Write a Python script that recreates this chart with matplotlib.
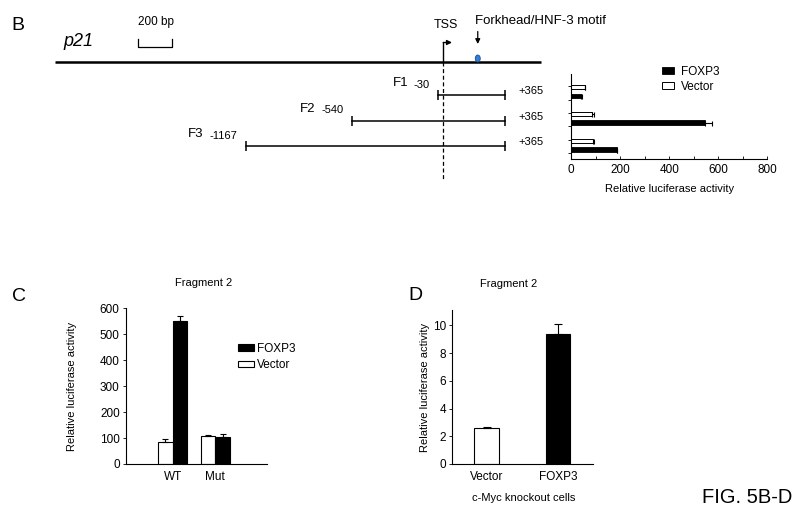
import numpy as np
import matplotlib
matplotlib.use("Agg")
import matplotlib.pyplot as plt
from matplotlib.patches import Ellipse

plt.rcParams['font.family'] = ['Liberation Sans', 'DejaVu Sans']
plt.rcParams['font.size'] = 8
plt.rcParams['axes.linewidth'] = 0.8

# ---- data ----
# p21 promoter map, bp relative to the TSS
map_start, map_end = -2290, 580
motif_pos = 204
scale_bar = [-1800, -1600]
frag_names = ["F1", "F2", "F3"]
frag_starts = [-30, -540, -1167]
frag_end = 365

# panel B: luciferase activity per fragment
b_vector = [57, 84, 91]
b_vector_err = [2, 10, 2]
b_foxp3 = [41, 548, 186]
b_foxp3_err = [2, 27, 3]

# panel C: fragment 2, wild type vs mutant motif
c_groups = ["WT", "Mut"]
c_vector = [84, 109]
c_vector_err = [11, 3]
c_foxp3 = [552, 104]
c_foxp3_err = [18, 12]

# panel D: fragment 2 in c-Myc knockout cells
d_labels = ["Vector", "FOXP3"]
d_values = [2.58, 9.39]
d_err = [0.11, 0.70]

W, H = 800, 512
fig = plt.figure(figsize=(8, 5.12), dpi=100)


def fx(px):
    return px / W


def fy(py):
    return 1 - py / H


# ---- promoter map (x in bp, y in pixels) ----
bp_px = 0.1694
tss_px = 443.2
ax0 = fig.add_axes([0, 0, 1, 1])
ax0.set_xlim(-tss_px / bp_px, (W - tss_px) / bp_px)
ax0.set_ylim(H, 0)
ax0.axis('off')

line_y = 61.7
frag_rows = [95, 120.7, 146]

ax0.plot([map_start, map_end], [line_y, line_y], color='k', lw=1.8, solid_capstyle='butt')
ax0.text(-2244, 46, 'p21', style='italic', fontsize=13, va='baseline')

ax0.plot([scale_bar[0], scale_bar[0], scale_bar[1], scale_bar[1]], [39.3, 46.7, 46.7, 39.3],
         color='k', lw=0.9)
ax0.text(scale_bar[0], 21.5, '200 bp', fontsize=8.5, va='center', ha='left')

# TSS flag
ax0.plot([0, 0], [line_y, 42.5], color='k', lw=1)
ax0.annotate('', xy=(52, 42.5), xytext=(0, 42.5),
             arrowprops=dict(arrowstyle='-|>', lw=1, color='k', shrinkA=0, shrinkB=0, mutation_scale=7))
ax0.text(14, 25.5, 'TSS', fontsize=9, ha='center', va='center')
ax0.plot([0, 0], [line_y, 180], color='k', lw=0.9, ls=(0, (3.2, 2.1)))

# Forkhead motif
ax0.text(188, 21, 'Forkhead/HNF-3 motif', fontsize=9.5, ha='left', va='center')
ax0.annotate('', xy=(motif_pos, 44), xytext=(motif_pos, 31.5),
             arrowprops=dict(arrowstyle='-|>', lw=0.9, color='k', shrinkA=0, shrinkB=0, mutation_scale=7))
ax0.add_patch(Ellipse((motif_pos, 58.5), width=5 / bp_px, height=7, fc='#2f7fd8', ec='#1b4f8f',
                      lw=0.6, zorder=3))

# fragments
for name, s, y in zip(frag_names, frag_starts, frag_rows):
    ax0.plot([s, frag_end], [y, y], color='k', lw=1.1, marker='|', ms=7, mew=1.1)
    num = ax0.annotate(str(s), xy=(s, y), xytext=(-6, 7.5), textcoords='offset points',
                       ha='right', va='center', fontsize=8)
    ax0.annotate(name, xy=(0, 0.5), xycoords=num, xytext=(-4, 1), textcoords='offset points',
                 ha='right', va='center', fontsize=9.5)
    ax0.annotate('+%d' % frag_end, xy=(frag_end, y), xytext=(9.5, 3), textcoords='offset points',
                 ha='left', va='center', fontsize=8)

err_kw = dict(ecolor='k', elinewidth=0.8, capthick=0.8)

# ---- panel B bars ----
axB = fig.add_axes([fx(571), fy(159.3), fx(767.3 - 571), (159.3 - 74.3) / H])
ypos = np.arange(len(frag_names))
off = 0.167
hb = axB.barh(ypos + off, b_foxp3, height=0.18, color='k', edgecolor='k', lw=0.6,
              xerr=[[0] * 3, b_foxp3_err], error_kw=dict(capsize=1.8, **err_kw))
hv = axB.barh(ypos - off, b_vector, height=0.15, color='white', edgecolor='k', lw=0.7,
              xerr=[[0] * 3, b_vector_err], error_kw=dict(capsize=1.8, **err_kw))
axB.set_xlim(0, 800)
axB.set_ylim(2.52, -0.64)
axB.spines[['top', 'right']].set_visible(False)
axB.set_xticks(np.arange(0, 801, 200))
axB.set_xticks(np.arange(100, 800, 200), minor=True)
axB.set_yticks([-0.2, 0.3, 0.8, 1.3, 1.8, 2.3])
axB.set_yticklabels([])
axB.tick_params(axis='x', which='both', direction='in', length=2.5, width=0.6, pad=3.5, labelsize=8.5)
axB.tick_params(axis='y', direction='out', length=2.5, width=0.6)
axB.set_xlabel('Relative luciferase activity', fontsize=8)
axB.xaxis.set_label_coords(0.5, -0.296)
fig.legend([hb, hv], ['FOXP3', 'Vector'], loc='upper left', bbox_to_anchor=(fx(661.5), fy(66)),
           frameon=False, borderpad=0, borderaxespad=0, handlelength=1.1, handleheight=0.5,
           handletextpad=0.55, labelspacing=0.25, fontsize=8.5)

# ---- panel C ----
axC = fig.add_axes([fx(126), fy(464), fx(141.3), 155.7 / H])
xc = np.arange(len(c_groups))
wc = 0.34
hv_c = axC.bar(xc - wc / 2, c_vector, width=wc, color='white', edgecolor='k', lw=0.8,
               yerr=[[0] * 2, c_vector_err], error_kw=dict(capsize=2.2, **err_kw))
hb_c = axC.bar(xc + wc / 2, c_foxp3, width=wc, color='k', edgecolor='k', lw=0.8,
               yerr=[[0] * 2, c_foxp3_err], error_kw=dict(capsize=2.2, **err_kw))
axC.set_xlim(-1.096, 2.22)
axC.set_ylim(0, 600)
axC.set_yticks(np.arange(0, 601, 100))
axC.set_xticks(xc)
axC.set_xticklabels(c_groups)
axC.spines[['top', 'right']].set_visible(False)
axC.tick_params(axis='y', direction='out', length=2.5, width=0.6, pad=2, labelsize=8.5)
axC.tick_params(axis='x', length=0, pad=5, labelsize=8.5)
axC.set_ylabel('Relative luciferase activity', fontsize=8)
axC.yaxis.set_label_coords(-0.349, 0.5)
fig.legend([hb_c, hv_c], ['FOXP3', 'Vector'], loc='upper left', bbox_to_anchor=(fx(238.3), fy(343)),
           frameon=False, borderpad=0, borderaxespad=0, handlelength=1.35, handleheight=0.5,
           handletextpad=0.25, labelspacing=0.35, fontsize=8.5)
fig.text(fx(203.2), fy(283.3), 'Fragment 2', ha='center', va='center', fontsize=8)

# ---- panel D ----
axD = fig.add_axes([fx(452.3), fy(464), fx(141), 154 / H])
xd = np.arange(len(d_labels))
axD.bar(xd, d_values, width=0.35, color=['white', 'k'], edgecolor='k', lw=0.8,
        yerr=[[0] * 2, d_err], error_kw=dict(capsize=3.2, **err_kw))
axD.set_xlim(-0.485, 1.496)
axD.set_ylim(0, 11.1)
axD.set_yticks(np.arange(0, 11, 2))
axD.set_xticks(xd)
axD.set_xticklabels(d_labels)
axD.spines[['top', 'right']].set_visible(False)
axD.tick_params(axis='y', direction='out', length=2.5, width=0.6, pad=2, labelsize=8.5)
axD.tick_params(axis='x', length=0, pad=5, labelsize=8.5)
axD.set_ylabel('Relative luciferase activity', fontsize=8)
axD.yaxis.set_label_coords(-0.158, 0.5)
fig.text(fx(508.3), fy(283.7), 'Fragment 2', ha='center', va='center', fontsize=8)
fig.text(fx(524), fy(498), 'c-Myc knockout cells', ha='center', va='center', fontsize=8)

# panel letters
fig.text(fx(18), fy(25), 'B', ha='center', va='center', fontsize=14)
fig.text(fx(18.8), fy(296.3), 'C', ha='center', va='center', fontsize=14)
fig.text(fx(415), fy(295), 'D', ha='center', va='center', fontsize=14)
fig.text(fx(747.5), fy(497.5), 'FIG. 5B-D', ha='center', va='center', fontsize=14.5)

fig.savefig('out.png', dpi=100)
